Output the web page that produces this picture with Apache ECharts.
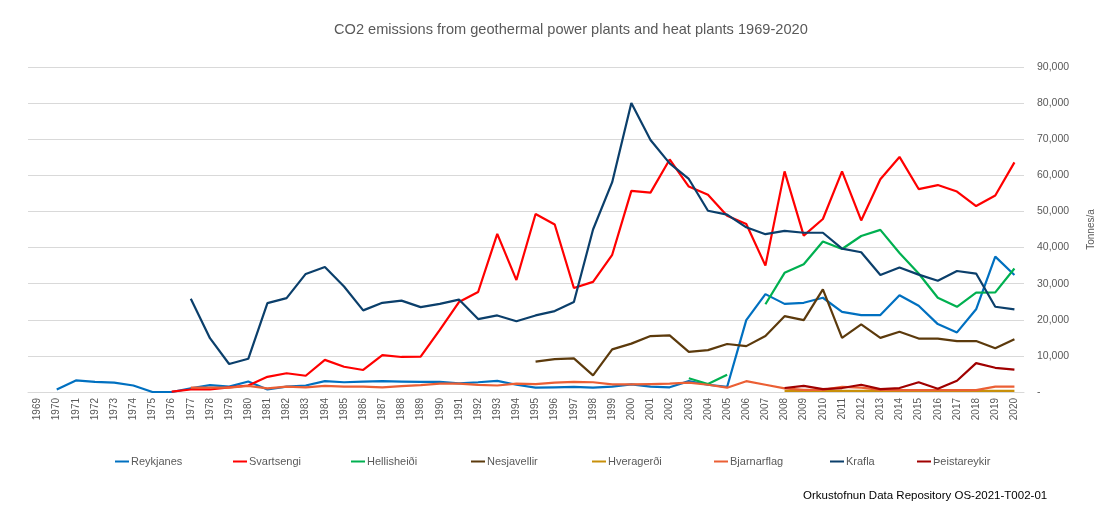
<!DOCTYPE html>
<html><head><meta charset="utf-8">
<script src="https://cdn.jsdelivr.net/npm/echarts@6/dist/echarts.min.js"></script>
<style>html,body{margin:0;padding:0;background:#fff}#c{width:1106px;height:505px}</style>
</head><body><div id="c"></div>
<script>
const years = [];
for (let y = 1969; y <= 2020; y++) years.push(String(y));
const N = null;
// 1969..2020
const reykjanes = [N,700,3200,2800,2600,1800,0,0,1000,1900,1500,2900,700,1500,1800,3000,2700,2900,3000,2900,2800,2800,2400,2700,3100,2000,1200,1300,1400,1200,1500,2100,1500,1300,3000,2000,1400,19900,27100,24400,24700,26100,22200,21300,21300,26800,23900,18800,16500,22900,37500,32400];
const svartsengi = [N,N,N,N,N,N,N,100,700,700,1300,1800,4200,5200,4500,8900,7000,6100,10200,9700,9800,17200,24900,27700,43800,31000,49300,46400,28800,30500,38000,55700,55200,64400,56900,54600,48800,46500,35000,61100,43300,47900,61100,47500,58900,65100,56200,57300,55500,51500,54400,63600];
const hellisheidi = [N,N,N,N,N,N,N,N,N,N,N,N,N,N,N,N,N,N,N,N,N,N,N,N,N,N,N,N,N,N,N,N,N,N,3800,2200,4800,N,24300,33000,35400,41700,39600,43200,44900,38500,32800,26100,23600,27500,27600,34200];
const nesjavellir = [N,N,N,N,N,N,N,N,N,N,N,N,N,N,N,N,N,N,N,N,N,N,N,N,N,N,8400,9100,9300,4600,11800,13400,15500,15700,11100,11600,13300,12700,15500,21000,19900,28400,15000,18700,15000,16700,14800,14800,14100,14100,12100,14600];
const hveragerdi = [N,N,N,N,N,N,N,N,N,N,N,N,N,N,N,N,N,N,N,N,N,N,N,N,N,N,N,N,N,N,N,N,N,N,N,N,N,N,N,300,300,300,300,300,300,300,300,300,300,300,300,300];
const bjarnarflag = [N,N,N,N,N,N,N,N,1200,1200,1200,1700,1000,1500,1300,1700,1500,1500,1300,1600,1900,2300,2300,2000,1800,2300,2200,2600,2800,2700,2100,2100,2200,2300,2600,2000,1200,3000,2000,1000,600,600,1400,1200,600,500,500,500,500,500,1500,1500];
const krafla = [N,N,N,N,N,N,N,N,25800,14900,7750,9200,24600,26000,32700,34600,29200,22600,24700,25300,23500,24400,25600,20200,21200,19600,21200,22400,24900,45000,58100,80000,69800,63300,59000,50200,49100,45600,43700,44600,44100,44100,39700,38700,32400,34500,32500,30800,33500,32800,23600,22900];
const theistareykir = [N,N,N,N,N,N,N,N,N,N,N,N,N,N,N,N,N,N,N,N,N,N,N,N,N,N,N,N,N,N,N,N,N,N,N,N,N,N,N,1100,1700,800,1100,2000,800,1100,2700,900,3100,8000,6700,6200];

const seriesNames = ['Reykjanes','Svartsengi','Hellisheiði','Nesjavellir','Hveragerði','Bjarnarflag','Krafla','Þeistareykir'];
const seriesData = [reykjanes,svartsengi,hellisheidi,nesjavellir,hveragerdi,bjarnarflag,krafla,theistareykir];
const colors = ['#0070C0','#FF0000','#00B050','#5C3A0C','#C8900A','#EB5F34','#0B3F6B','#A00000'];
const legendLeft = [110,228,346,466,587,709,825,912];

const font = 'Liberation Sans';
const chart = echarts.init(document.getElementById('c'), null, {renderer:'canvas'});
chart.setOption({
  animation:false,
  backgroundColor:'#fff',
  title:[{text:'CO2 emissions from geothermal power plants and heat plants 1969-2020',left:329,top:17,
    textStyle:{fontFamily:font,fontSize:14.6,fontWeight:'normal',color:'#595959'}},
    {text:'Orkustofnun Data Repository OS-2021-T002-01',left:798,top:485,
    textStyle:{fontFamily:font,fontSize:11.5,fontWeight:'normal',color:'#000'}}],
  legend: seriesNames.map((n,i)=>({data:[n],left:legendLeft[i],top:451,icon:'rect',itemWidth:14,itemHeight:2,itemGap:2,
    textStyle:{fontFamily:font,fontSize:11,color:'#595959',padding:[0,0,0,-3]}})),
  grid:{left:28,right:82,top:67,bottom:113,containLabel:false},
  xAxis:{type:'category',data:years,boundaryGap:true,
    axisLine:{show:true,lineStyle:{color:'#D9D9D9'}},axisTick:{show:false},
    axisLabel:{rotate:90,fontFamily:font,fontSize:10,color:'#595959',margin:6,interval:0}},
  yAxis:{type:'value',position:'right',min:0,max:90000,interval:10000,
    name:'Tonnes/a',nameLocation:'middle',nameGap:62,nameRotate:90,
    nameTextStyle:{fontFamily:font,fontSize:10,color:'#595959'},
    axisLine:{show:false},axisTick:{show:false},
    splitLine:{lineStyle:{color:'#D9D9D9',width:1}},
    axisLabel:{fontFamily:font,fontSize:10.5,color:'#595959',margin:13,align:'left',
      formatter:v=>v===0?'-':v.toLocaleString('en-US')}},
  series: seriesNames.map((n,i)=>({name:n,type:'line',data:seriesData[i],symbol:'none',
    lineStyle:{width:2.2,color:colors[i]},itemStyle:{color:colors[i]},connectNulls:false}))
});
</script></body></html>
